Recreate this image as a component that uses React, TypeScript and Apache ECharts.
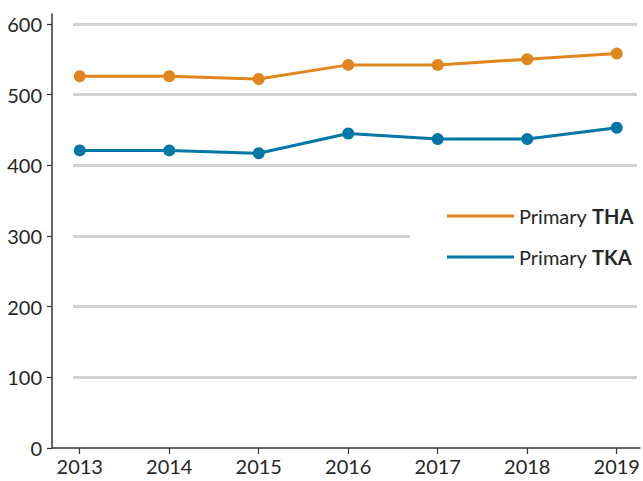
import React, { useEffect, useRef } from "react";
import * as echarts from "echarts";

const years = [2013, 2014, 2015, 2016, 2017, 2018, 2019];
const thaValues = [526, 526, 522, 542, 542, 550, 558];
const tkaValues = [421, 421, 417, 445, 437, 437, 453];
const yTicks = [0, 100, 200, 300, 400, 500, 600];
const seriesNames = ["Primary THA", "Primary TKA"];

const FONT = "Lato";
const TEXT = "#262626";
const ORANGE = "#E0861C";
const BLUE = "#0077A6";

export default function App() {
  const ref = useRef<HTMLDivElement>(null);
  useEffect(() => {
    const chart = echarts.init(ref.current!, null, { renderer: "svg" });
    chart.setOption({
      animation: false,
      backgroundColor: "#ffffff",
      grid: [
        { left: 52, right: 3, top: 14, bottom: 33 },
        { left: 73, right: 6, top: 24, bottom: 103.7 },
      ],
      xAxis: [
        {
          type: "value",
          gridIndex: 0,
          min: 2012.69,
          max: 2019.26,
          axisLine: { show: true, lineStyle: { color: "#333", width: 1.5 } },
          axisTick: {
            show: true,
            length: 6,
            customValues: years,
            lineStyle: { color: "#333", width: 1.2 },
          },
          axisLabel: {
            customValues: years,
            color: TEXT,
            fontFamily: FONT,
            fontSize: 20,
            margin: 8,
            formatter: (v: number) => String(Math.round(v)),
          },
          splitLine: { show: false },
        },
        {
          type: "value",
          gridIndex: 1,
          min: 0,
          max: 1,
          show: false,
        },
      ],
      yAxis: [
        {
          type: "value",
          gridIndex: 0,
          min: 0,
          max: 614,
          axisLine: { show: true, lineStyle: { color: "#333", width: 1.5 } },
          axisTick: {
            show: true,
            length: 5,
            customValues: yTicks,
            lineStyle: { color: "#333", width: 1.2 },
          },
          axisLabel: {
            customValues: yTicks,
            color: TEXT,
            fontFamily: FONT,
            fontSize: 20,
            margin: 10,
          },
          splitLine: { show: false },
        },
        {
          type: "value",
          gridIndex: 1,
          min: 100,
          max: 600,
          interval: 100,
          axisLine: { show: false },
          axisTick: { show: false },
          axisLabel: { show: false },
          splitLine: { show: true, lineStyle: { color: "#d2d2d2", width: 3 } },
        },
      ],
      legend: {
        orient: "vertical",
        left: 410,
        top: 196,
        padding: [10, 6, 10, 37],
        backgroundColor: "#ffffff",
        itemWidth: 67,
        itemHeight: 3,
        itemGap: 21,
        icon: "rect",
        data: seriesNames,
        formatter: (name: string) => {
          const parts = name.split(" ");
          return `{n|${parts[0]} }{b|${parts[1]}}`;
        },
        textStyle: {
          fontFamily: FONT,
          fontSize: 20,
          color: TEXT,
          rich: {
            n: { fontFamily: FONT, fontSize: 20, color: TEXT, lineHeight: 22 },
            b: { fontFamily: FONT, fontSize: 20, color: TEXT, fontWeight: "bold", lineHeight: 22 },
          },
        },
      },
      series: [
        {
          name: seriesNames[0],
          type: "line",
          xAxisIndex: 0,
          yAxisIndex: 0,
          data: years.map((y, i) => [y, thaValues[i]]),
          color: ORANGE,
          lineStyle: { color: ORANGE, width: 3 },
          itemStyle: { color: ORANGE },
          symbol: "circle",
          symbolSize: 12,
          z: 3,
        },
        {
          name: seriesNames[1],
          type: "line",
          xAxisIndex: 0,
          yAxisIndex: 0,
          data: years.map((y, i) => [y, tkaValues[i]]),
          color: BLUE,
          lineStyle: { color: BLUE, width: 3 },
          itemStyle: { color: BLUE },
          symbol: "circle",
          symbolSize: 12,
          z: 3,
        },
      ],
    });
    return () => chart.dispose();
  }, []);
  return <div ref={ref} style={{ width: 643, height: 481, position: "absolute", left: 0, top: 0 }} />;
}
